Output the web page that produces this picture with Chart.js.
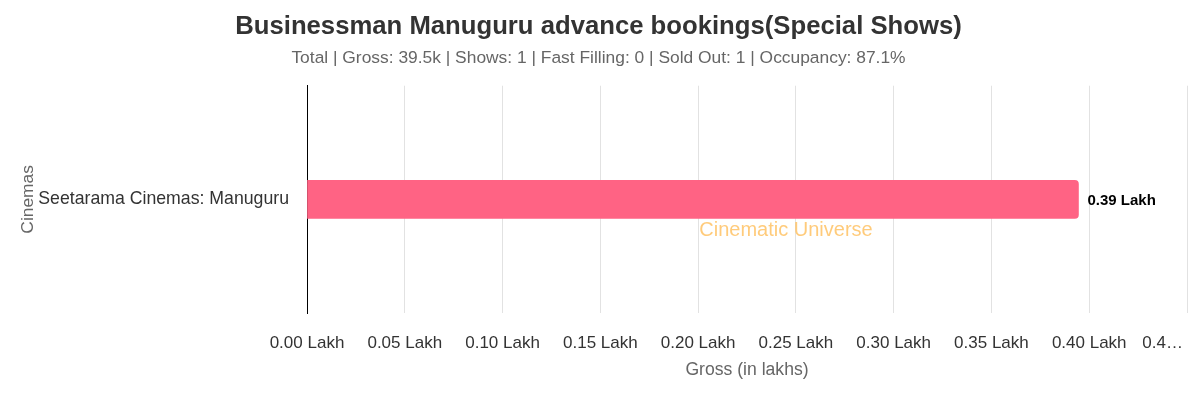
<!DOCTYPE html>
<html>
<head>
<meta charset="utf-8">
<script src="https://cdn.jsdelivr.net/npm/chart.js@4"></script>
<style>
  html, body { margin: 0; padding: 0; background: #fff; }
  #wrap { width: 1200px; height: 400px; }
</style>
</head>
<body>
<div id="wrap"><canvas id="bookings-chart" width="1200" height="400"></canvas></div>
<script>
// chart data
const cinemas = ["Seetarama Cinemas: Manuguru"];
const grossLakhs = [0.3945];
const xMax = 0.45;
const lastTickLabel = "0.4…"; // the last tick label is cut off in the original
const titleText = "Businessman Manuguru advance bookings(Special Shows)";
const subtitleText = "Total | Gross: 39.5k | Shows: 1 | Fast Filling: 0 | Sold Out: 1 | Occupancy: 87.1%";

const fontStack = "'Helvetica Neue', Helvetica, Arial, sans-serif";

// draws "0.39 Lakh" after each bar
const valueLabels = {
  id: "valueLabels",
  afterDatasetsDraw(chart) {
    const ctx = chart.ctx;
    const meta = chart.getDatasetMeta(0);
    ctx.save();
    ctx.font = "bold 15px " + fontStack;
    ctx.fillStyle = "#000";
    ctx.textBaseline = "middle";
    meta.data.forEach((bar, i) => {
      ctx.fillText(grossLakhs[i].toFixed(2) + " Lakh", bar.x + 9, bar.y + 1);
    });
    ctx.restore();
  }
};

// cut-off last tick label, sits just left of its gridline
const lastTick = {
  id: "lastTick",
  afterDraw(chart) {
    const x = chart.scales.x;
    const ctx = chart.ctx;
    ctx.save();
    ctx.font = "17px " + fontStack;
    ctx.fillStyle = "#333";
    ctx.textAlign = "right";
    ctx.textBaseline = "middle";
    ctx.fillText(lastTickLabel, x.getPixelForValue(xMax) - 4, x.top + 30);
    ctx.restore();
  }
};

// watermark text
const watermark = {
  id: "watermark",
  afterDraw(chart) {
    const ctx = chart.ctx;
    ctx.save();
    ctx.font = "20px " + fontStack;
    ctx.fillStyle = "rgba(255, 190, 90, 0.8)";
    ctx.textAlign = "center";
    ctx.textBaseline = "middle";
    ctx.fillText("Cinematic Universe", 786, 230);
    ctx.restore();
  }
};

const ctx = document.getElementById("bookings-chart").getContext("2d");
new Chart(ctx, {
  type: "bar",
  data: {
    labels: cinemas,
    datasets: [{
      data: grossLakhs,
      backgroundColor: "#ff6384",
      borderRadius: 4,
      borderSkipped: "start",
      barThickness: 38
    }]
  },
  options: {
    indexAxis: "y",
    responsive: false,
    animation: false,
    layout: { padding: { left: 10, right: 13, top: 0, bottom: 19 } },
    plugins: {
      legend: { display: false },
      tooltip: { enabled: false },
      title: {
        display: true,
        text: titleText,
        color: "#333",
        font: { size: 25.7, weight: "bold" },
        padding: { top: 11, bottom: 6 }
      },
      subtitle: {
        display: true,
        text: subtitleText,
        color: "#666",
        font: { size: 17.4 },
        padding: { bottom: 17 }
      }
    },
    scales: {
      x: {
        min: 0,
        max: xMax,
        border: { display: false },
        grid: { color: "#e2e2e2", drawTicks: false },
        afterFit: (scale) => { scale.height = 68; scale.paddingRight = 0; },
        ticks: {
          stepSize: 0.05,
          color: "#333",
          font: { size: 17 },
          padding: 20,
          maxRotation: 0,
          callback: (v) => v >= xMax ? "" : v.toFixed(2) + " Lakh"
        },
        title: { display: true, text: "Gross (in lakhs)", color: "#666", font: { size: 17.6 }, padding: { top: 6, bottom: 0 } }
      },
      y: {
        border: { display: true, color: "#000" },
        grid: { display: false },
        afterFit: (scale) => { scale.width = 297; },
        ticks: { color: "#333", font: { size: 17.7 }, padding: 10 },
        title: { display: true, text: "Cinemas", color: "#666", font: { size: 17.4 }, padding: { top: 8, bottom: 0 } }
      }
    }
  },
  plugins: [valueLabels, lastTick, watermark]
});
</script>
</body>
</html>
